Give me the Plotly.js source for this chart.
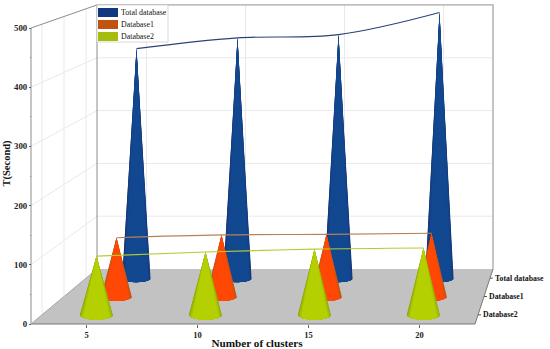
<!DOCTYPE html>
<html>
<head>
<meta charset="utf-8">
<script src="https://cdn.plot.ly/plotly-3.0.1.min.js"></script>
<style>html,body{margin:0;padding:0;background:#fff}#chart{width:550px;height:349px}</style>
</head>
<body>
<div id="chart"></div>
<script>
// ---- data ----
const clusters = [5, 10, 15, 20];
const totalDatabase = [426, 446, 452, 493];
const database1 = [105, 110, 111, 113];
const database2 = [101, 108, 113, 115];
const seriesNames = ['Total database', 'Database1', 'Database2'];
const yTicks = [0, 100, 200, 300, 400, 500];

// ---- styles ----
const FONT = 'Liberation Serif, Times New Roman, serif';
const depths = [5 / 6, 1 / 2, 1 / 6];
const edgeColors = [[24, 48, 112], [166, 88, 28], [136, 160, 10]];
const midColors = [[18, 72, 144], [255, 72, 5], [180, 208, 0]];
const edgeAlpha = [1, 0.72, 1];
const swatchColors = ['#10397f', '#c0530f', '#a6bd0d'];
const lineColors = ['#2b4378', '#b5815a', '#b5cc30'];

// ---- oblique view of the 3-D box, expressed in the front-plane axis units ----
const X0 = 2.5, X1 = 22.5, V1 = 500;
function project(x, d, v) {
  const f = (x - X0) / (X1 - X0);
  return [X0 + 2.973 * d + f * (20 - 2.162 * d), 92.9 * d + v * (1 - 0.108 * d)];
}
function path(points) {
  const p = points.map(q => project(q[0], q[1], q[2]));
  return { x: p.map(q => q[0]), y: p.map(q => q[1]) };
}
function line(points, color, width) {
  const p = path(points);
  return { type: 'scatter', mode: 'lines', x: p.x, y: p.y, hoverinfo: 'skip', showlegend: false,
    cliponaxis: false, line: { color: color, width: width } };
}
function fillPoly(points, color) {
  const p = path(points);
  return { type: 'scatter', mode: 'lines', x: p.x, y: p.y, fill: 'toself', fillcolor: color, hoverinfo: 'skip',
    showlegend: false, cliponaxis: false, line: { width: 0 } };
}

const traces = [];
// floor
traces.push(fillPoly([[X0, 0, 0], [X1, 0, 0], [X1, 1, 0], [X0, 1, 0], [X0, 0, 0]], '#c2c2c2'));
// wall grid
const gridC = '#e9e9e9';
yTicks.slice(1, 5).forEach(v => {
  traces.push(line([[X0, 0, v], [X0, 1, v], [X1, 1, v]], gridC, 1));
});
clusters.forEach(c => traces.push(line([[c, 1, 0], [c, 1, V1]], gridC, 1)));
depths.forEach(d => traces.push(line([[X0, d, 0], [X0, d, V1]], gridC, 1)));
// frame
traces.push(line([[X0, 1, V1], [X1, 1, V1], [X1, 1, 0]], '#a6a6a6', 1.3));
traces.push(line([[X0, 0, 0], [X0, 0, V1], [X0, 1, V1]], '#8c8c8c', 1));
traces.push(line([[X0, 1, 0], [X0, 1, V1]], '#8c8c8c', 1));
traces.push(line([[X0, 0, 0], [X1, 0, 0], [X1, 1, 0]], '#777777', 1));
traces.push(line([[X0, 0, 0], [X0, 1, 0]], '#a5a5a5', 1));
// depth-axis ticks
depths.forEach(d => traces.push(line([[X1, d, 0], [X1 + 0.14, d, 0]], '#555555', 1)));

// cones, back to front, built from the values; shading comes from nested sectors
const allValues = [totalDatabase, database1, database2];
const LAYERS = 9;
allValues.forEach((vals, s) => {
  const d = depths[s];
  const rx = 0.775 * (1 - 0.2 * d), ry = 8.6 * (1 - 0.25 * d);
  for (let k = 0; k < LAYERS; k++) {
    const xs = [], ys = [];
    const a0 = (Math.PI / 2) * (k / LAYERS) * 0.9;
    const m = Math.min(1, Math.sin(a0) * 1.7);
    const c = edgeColors[s].map((e, i) => Math.round(e + (midColors[s][i] - e) * m));
    const col = k === 0 ? 'rgba(' + c.join(',') + ',' + edgeAlpha[s] + ')' : 'rgb(' + c.join(',') + ')';
    vals.forEach((v, i) => {
      const apex = project(clusters[i], d, v);
      const base = project(clusters[i], d, 0);
      xs.push(apex[0]); ys.push(apex[1]);
      for (let j = 0; j <= 16; j++) {
        const a = a0 + (Math.PI - 2 * a0) * j / 16;
        xs.push(base[0] + rx * Math.cos(a)); ys.push(base[1] - ry * Math.sin(a));
      }
      xs.push(apex[0]); ys.push(apex[1]);
      xs.push(null); ys.push(null);
    });
    traces.push({ type: 'scatter', mode: 'lines', x: xs, y: ys, fill: 'toself', fillcolor: col,
      hoverinfo: 'skip', showlegend: false, cliponaxis: false, line: { width: 0 } });
  }
});
// trend lines over the tips
allValues.forEach((vals, s) => {
  const p = path(vals.map((v, i) => [clusters[i], depths[s], v]));
  traces.push({ type: 'scatter', mode: 'lines', name: seriesNames[s], x: p.x, y: p.y, hoverinfo: 'skip', showlegend: false,
    cliponaxis: false, line: { color: lineColors[s], width: 1.1, shape: 'spline', smoothing: 1 } });
});

// ---- page geometry ----
const plotW = 514, plotH = 327;
const pxPerX = 22.2, pxPerV = 0.592;
const xAt0 = 5 - 86.5 / pxPerX;
const vAt0 = 324 / pxPerV;

// depth labels
const annotations = seriesNames.map((n, s) => {
  const p = project(X1, depths[s], 0);
  return { x: p[0], y: p[1], xref: 'x', yref: 'y', text: '<b>' + n + '</b>', showarrow: false, xanchor: 'left', xshift: 3,
    yanchor: 'middle', font: { family: FONT, size: 7.8, color: '#111' } };
});
// legend
const shapes = [];
const legX = 97 / plotW, legW = 71 / plotW;
const py = v => 1 - v / plotH;
shapes.push({ type: 'rect', xref: 'paper', yref: 'paper', x0: legX, x1: legX + legW, y0: py(42), y1: py(5), fillcolor: '#fff',
  line: { color: '#cfcfcf', width: 0.8 }, layer: 'above' });
seriesNames.forEach((n, s) => {
  const top = 8 + s * 12;
  shapes.push({ type: 'rect', xref: 'paper', yref: 'paper', x0: 98 / plotW, x1: 118 / plotW, y0: py(top + 9), y1: py(top),
    fillcolor: swatchColors[s], line: { width: 0 }, layer: 'above' });
  annotations.push({ xref: 'paper', yref: 'paper', x: 120 / plotW, y: py(top + 4.5), text: n, showarrow: false, xanchor: 'left',
    yanchor: 'middle', xshift: -1, font: { family: FONT, size: 7.9, color: '#111' } });
});

const layout = {
  width: 550, height: 349,
  margin: { l: 0, r: 550 - plotW, t: 0, b: 349 - plotH, pad: 0 },
  paper_bgcolor: '#ffffff', plot_bgcolor: '#ffffff',
  showlegend: false,
  font: { family: FONT, color: '#111' },
  xaxis: {
    range: [xAt0, xAt0 + plotW / pxPerX], anchor: 'free', position: (plotH - 324) / plotH,
    tickmode: 'array', tickvals: clusters, ticktext: clusters.map(c => '<b>' + c + '</b>'),
    ticks: 'outside', ticklen: 3, tickcolor: '#666', tickwidth: 1,
    showgrid: false, zeroline: false, showline: false,
    tickfont: { family: FONT, size: 8.5, color: '#222' },
    title: { text: '<b>Number of clusters</b>', standoff: 0, font: { family: FONT, size: 11.2, color: '#111' } }
  },
  yaxis: {
    range: [vAt0 - plotH / pxPerV, vAt0], anchor: 'free', position: 31 / plotW,
    tickmode: 'array', tickvals: yTicks, ticktext: yTicks.map(c => '<b>' + c + '</b>'),
    ticks: 'outside', ticklen: 2, tickcolor: '#666', tickwidth: 1,
    minor: { tickvals: [50, 150, 250, 350, 450], ticks: 'outside', ticklen: 1.5, tickcolor: '#888' },
    showgrid: false, zeroline: false, showline: false,
    tickfont: { family: FONT, size: 8.8, color: '#222' },
    title: { text: '<b>T(Second)</b>', standoff: 0, font: { family: FONT, size: 10.5, color: '#111' } }
  },
  annotations: annotations,
  shapes: shapes
};
Plotly.newPlot('chart', traces, layout, { displayModeBar: false, responsive: false });
</script>
</body>
</html>
